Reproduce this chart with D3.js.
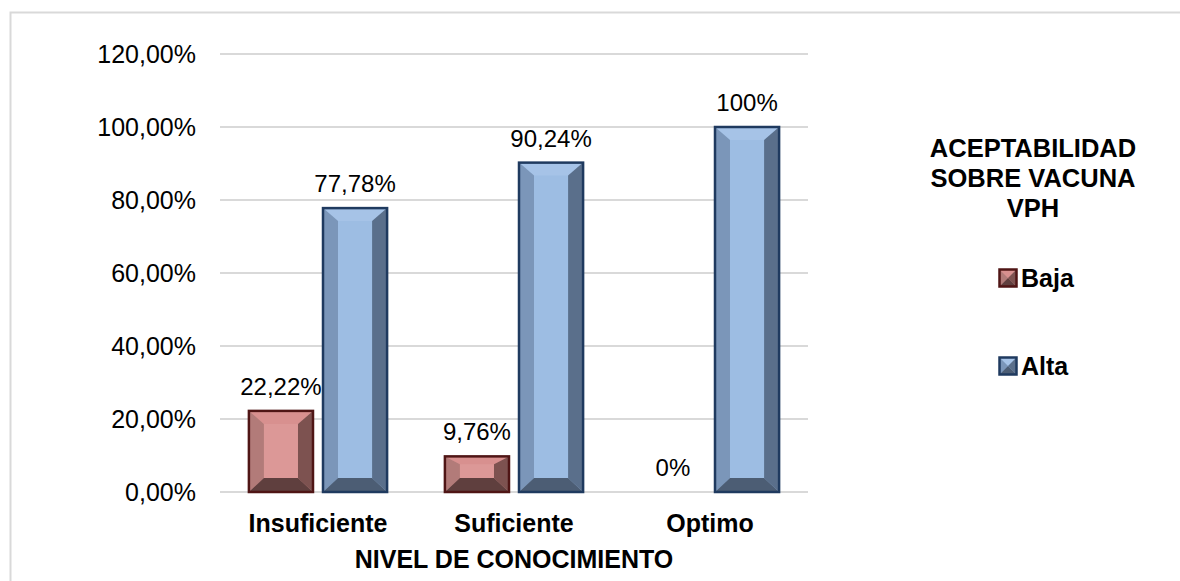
<!DOCTYPE html>
<html><head><meta charset="utf-8">
<script src="https://cdn.jsdelivr.net/npm/d3@7"></script>
<style>html,body{margin:0;background:#fff;overflow:hidden}svg{display:block;font-family:Arial,"Liberation Sans",sans-serif}</style>
</head><body>
<svg id="c" width="1180" height="581"></svg>
<script>
const categories = ["Insuficiente", "Suficiente", "Optimo"];
const seriesNames = ["Baja", "Alta"];
const baja = [22.22, 9.76, 0];
const alta = [77.78, 90.24, 100];
const bajaLabels = ["22,22%", "9,76%", "0%"];
const altaLabels = ["77,78%", "90,24%", "100%"];
const yTicks = [0, 20, 40, 60, 80, 100, 120];
const yTickLabels = ["0,00%", "20,00%", "40,00%", "60,00%", "80,00%", "100,00%", "120,00%"];
const legendTitle = ["ACEPTABILIDAD", "SOBRE VACUNA", "VPH"];
const xTitle = "NIVEL DE CONOCIMIENTO";

const palettes = {
  Baja: {border:"#4f1515", center:"#dc9897", top:"#d8908f", left:"#b27b79", right:"#7d5250", bottom:"#5f3f3e"},
  Alta: {border:"#1f3a5f", center:"#9dbde3", top:"#a6c3e7", left:"#7b96b9", right:"#5a6f8b", bottom:"#4c5d74"}
};

const svg = d3.select("#c");
// chart frame: only top and left edges are inside the picture
svg.append("path").attr("d","M10.5,600 L10.5,12.5 L1200,12.5")
  .attr("fill","none").attr("stroke","#d9d9d9").attr("stroke-width",2);

const L = 220, R = 808, T = 54, B = 492;
const y = d3.scaleLinear().domain([0,120]).range([B,T]);
const x = d3.scaleBand().domain(categories).range([L,R]).paddingInner(0).paddingOuter(0);
const xs = d3.scaleBand().domain(seriesNames).range([0, x.bandwidth()]).paddingInner(0.135).paddingOuter(0.39);

// grid
svg.append("g").selectAll("line").data(yTicks).join("line")
  .attr("x1",L).attr("x2",R).attr("y1",d=>y(d)).attr("y2",d=>y(d))
  .attr("stroke","#d9d9d9").attr("stroke-width",2);

// y axis labels
svg.append("g").selectAll("text").data(yTicks).join("text")
  .attr("x",196).attr("y",d=>y(d)).attr("dy","0.35em").attr("text-anchor","end")
  .attr("font-size",25).attr("fill","#000").text((d,i)=>yTickLabels[i]);

function bevelBar(g, x0, x1, y0, y1, pal, s, t, b) {
  const P = pts => pts.map(p=>p.join(",")).join(" ");
  g.append("rect").attr("x",x0).attr("y",y0).attr("width",x1-x0).attr("height",y1-y0).attr("fill",pal.center);
  g.append("polygon").attr("points",P([[x0,y0],[x1,y0],[x1-s,y0+t],[x0+s,y0+t]])).attr("fill",pal.top);
  g.append("polygon").attr("points",P([[x0,y0],[x0+s,y0+t],[x0+s,y1-b],[x0,y1]])).attr("fill",pal.left);
  g.append("polygon").attr("points",P([[x1,y0],[x1,y1],[x1-s,y1-b],[x1-s,y0+t]])).attr("fill",pal.right);
  g.append("polygon").attr("points",P([[x0,y1],[x0+s,y1-b],[x1-s,y1-b],[x1,y1]])).attr("fill",pal.bottom);
  g.append("rect").attr("x",x0).attr("y",y0).attr("width",x1-x0).attr("height",y1-y0)
    .attr("fill","none").attr("stroke",pal.border).attr("stroke-width",2.5);
}

const data = [];
categories.forEach((c,i)=>{
  data.push({cat:c, s:"Baja", v:baja[i], lab:bajaLabels[i]});
  data.push({cat:c, s:"Alta", v:alta[i], lab:altaLabels[i]});
});
const gb = svg.append("g");
data.forEach(d=>{
  const x0 = x(d.cat)+xs(d.s), x1 = x0+xs.bandwidth();
  const y0 = y(d.v), y1 = y(0);
  const h = y1-y0;
  if (h > 0) {
    bevelBar(gb, x0, x1, y0, y1, palettes[d.s], 15, Math.min(13, h*0.22), Math.min(14, h*0.4));
  }
  svg.append("text").attr("x",(x0+x1)/2).attr("y",y0-16).attr("text-anchor","middle")
    .attr("font-size",24).attr("fill","#000").text(d.lab);
});

// x labels
svg.append("g").selectAll("text").data(categories).join("text")
  .attr("x",d=>x(d)+x.bandwidth()/2).attr("y",532).attr("text-anchor","middle")
  .attr("font-size",25).attr("font-weight","bold").text(d=>d);
svg.append("text").attr("x",(L+R)/2).attr("y",568).attr("text-anchor","middle")
  .attr("font-size",25).attr("font-weight","bold").text(xTitle);

// legend
legendTitle.forEach((t,i)=>{
  svg.append("text").attr("x",1033).attr("y",157+i*30).attr("text-anchor","middle")
    .attr("font-size",25.5).attr("font-weight","bold").text(t);
});
const legY = [278, 366];
seriesNames.forEach((s,i)=>{
  const g = svg.append("g");
  const cx = 1008, cy = legY[i];
  bevelBar(g, cx-8.5, cx+8.5, cy-8.5, cy+8.5, palettes[s], 8.5, 8.5, 8.5);
  g.append("text").attr("x",1021).attr("y",cy).attr("dy","0.35em")
    .attr("font-size",25).attr("font-weight","bold").text(s);
});
</script>
</body></html>
